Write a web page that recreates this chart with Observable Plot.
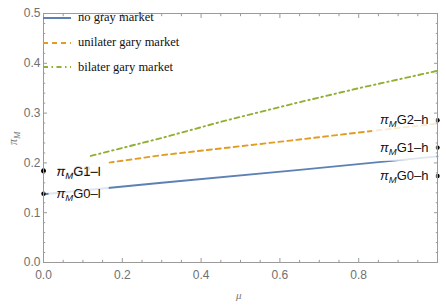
<!DOCTYPE html>
<html><head><meta charset="utf-8">
<script src="https://cdn.jsdelivr.net/npm/d3@7"></script>
<script src="https://cdn.jsdelivr.net/npm/@observablehq/plot@0.6"></script>
<style>
body{margin:0;background:#fff;}
#wrap{position:relative;width:446px;height:308px;overflow:hidden;}
#wrap svg{display:block;}
.leg{position:absolute;left:43px;height:16px;display:flex;align-items:center;font-family:"Liberation Serif","Times New Roman",serif;font-size:12.5px;color:#111;white-space:nowrap;}
.leg svg{margin-right:7px;}
.ax{position:absolute;font-family:"Liberation Serif","Times New Roman",serif;font-style:italic;color:#777;font-size:12px;}
.ax sub{font-size:9px;}
</style></head><body><div id="wrap"></div><script>
// series: no gray market
const noGrayMu = [0, 0.3, 0.65, 1];
const noGrayPi = [0.137, 0.160, 0.186, 0.213];
// series: unilater gary market
const uniMu = [0.12, 0.17, 0.3, 0.5, 0.65, 0.8, 1];
const uniPi = [0.197, 0.201, 0.2155, 0.2335, 0.247, 0.261, 0.279];
// series: bilater gary market
const biMu = [0.12, 0.3, 0.457, 0.65, 0.8, 1];
const biPi = [0.214, 0.25, 0.284, 0.322, 0.35, 0.385];

const seriesNames = ["no gray market", "unilater gary market", "bilater gary market"];
const seriesColors = ["#5E81B5", "#E19C24", "#8FB032"];
const seriesDash = ["none", "5,4", "5,3.5,1.5,3.5"];

// labelled points
const pointNames = ["G0–l", "G2–l", "G1–l", "G0–h", "G1–h", "G2–h"];
const pointMu = [0, 0, 0, 1, 1, 1];
const pointPi = [0.138, 0.185, 0.183, 0.1737, 0.2307, 0.2857];

// ticks
const xTicks = [0, 0.2, 0.4, 0.6, 0.8];
const xMajor = [0, 0.2, 0.4, 0.6, 0.8, 1];
const xMinor = [0.05,0.1,0.15,0.25,0.3,0.35,0.45,0.5,0.55,0.65,0.7,0.75,0.85,0.9,0.95];
const yTicks = [0, 0.1, 0.2, 0.3, 0.4, 0.5];
const yMinor = [0.02,0.04,0.06,0.08,0.12,0.14,0.16,0.18,0.22,0.24,0.26,0.28,0.32,0.34,0.36,0.38,0.42,0.44,0.46,0.48];
const xLabel = "μ";

const seriesData = [
  noGrayMu.map((m, i) => ({mu: m, pi: noGrayPi[i]})),
  uniMu.map((m, i) => ({mu: m, pi: uniPi[i]})),
  biMu.map((m, i) => ({mu: m, pi: biPi[i]}))
];
const pts = pointNames.map((n, i) => ({name: n, mu: pointMu[i], pi: pointPi[i]}));

const frameCol = "#9a9a9a", labCol = "#707070";
const marks = [];
seriesData.forEach((d, k) => {
  const o = {x: "mu", y: "pi", stroke: seriesColors[k], strokeWidth: 1.9};
  if (seriesDash[k] !== "none") o.strokeDasharray = seriesDash[k];
  marks.push(Plot.line(d, o));
});
marks.push(
  Plot.dot(pts, {x: "mu", y: "pi", r: 2.2, fill: "black"}),
  Plot.text(pts.filter(d => d.mu === 0), {x: "mu", y: "pi", text: "name", textAnchor: "start", dx: 13, fill: "#111", fontSize: 13}),
  Plot.text(pts.filter(d => d.mu === 1), {x: "mu", y: "pi", text: "name", textAnchor: "end", dx: -9, fill: "#111", fontSize: 13}),
  Plot.frame({stroke: frameCol}),
  Plot.axisX(xTicks, {anchor: "bottom", tickSize: 0, tickPadding: 8, tickFormat: d3.format(".1f"), fill: labCol, fontSize: 12, label: null}),
  Plot.axisX(xMajor, {anchor: "bottom", tickSize: -4, fill: "none", stroke: frameCol, label: null}),
  Plot.axisX(xMinor, {anchor: "bottom", tickSize: -2.2, fill: "none", stroke: frameCol, label: null}),
  Plot.axisX(xMajor, {anchor: "top", tickSize: -4, fill: "none", stroke: frameCol, label: null}),
  Plot.axisX(xMinor, {anchor: "top", tickSize: -2.2, fill: "none", stroke: frameCol, label: null}),
  Plot.axisY(yTicks, {anchor: "left", tickSize: 0, tickPadding: 3, tickFormat: d3.format(".1f"), fill: labCol, fontSize: 12, label: null}),
  Plot.axisY(yTicks, {anchor: "left", tickSize: -4, fill: "none", stroke: frameCol, label: null}),
  Plot.axisY(yMinor, {anchor: "left", tickSize: -2.2, fill: "none", stroke: frameCol, label: null}),
  Plot.axisY(yTicks, {anchor: "right", tickSize: -4, fill: "none", stroke: frameCol, label: null}),
  Plot.axisY(yMinor, {anchor: "right", tickSize: -2.2, fill: "none", stroke: frameCol, label: null})
);

const chart = Plot.plot({
  width: 446, height: 308,
  marginLeft: 43, marginRight: 9, marginTop: 13, marginBottom: 46,
  x: {domain: [0, 1]},
  y: {domain: [0, 0.5]},
  style: {fontFamily: "'Liberation Sans', Arial, sans-serif", fontSize: "12px", background: "white", overflow: "visible"},
  marks
});
const wrap = document.getElementById("wrap");
wrap.appendChild(chart);

// rich text for point labels (π with subscript M) + translucent white boxes
const NS = "http://www.w3.org/2000/svg";
chart.querySelectorAll('g[aria-label="text"] text').forEach(t => {
  const s = t.textContent;
  t.textContent = "";
  const a = document.createElementNS(NS, "tspan"); a.setAttribute("font-style", "italic"); a.textContent = "π";
  const b = document.createElementNS(NS, "tspan"); b.setAttribute("font-style", "italic"); b.setAttribute("font-size", "9.5"); b.setAttribute("dy", "3"); b.textContent = "M";
  const c = document.createElementNS(NS, "tspan"); c.setAttribute("dy", "-3"); c.textContent = s;
  t.append(a, b, c);
  const bb = t.getBBox();
  const r = document.createElementNS(NS, "rect");
  r.setAttribute("x", bb.x - 8); r.setAttribute("y", bb.y - 4);
  r.setAttribute("width", bb.width + 16); r.setAttribute("height", bb.height + 8);
  r.setAttribute("fill", "white"); r.setAttribute("fill-opacity", "0.8"); r.setAttribute("stroke", "none");
  if (t.getAttribute("transform")) r.setAttribute("transform", t.getAttribute("transform"));
  t.parentNode.insertBefore(r, t);
});

// legend overlay
const legTops = [9.5, 34.5, 59];
seriesNames.forEach((n, k) => {
  const row = document.createElement("div");
  row.className = "leg";
  row.style.top = legTops[k] + "px";
  const dash = seriesDash[k] === "none" ? "" : ` stroke-dasharray="${seriesDash[k]}"`;
  row.innerHTML = `<svg width="28" height="16"><line x1="0" x2="28" y1="8" y2="8" stroke="${seriesColors[k]}" stroke-width="2"${dash}/></svg><span>${n}</span>`;
  wrap.appendChild(row);
});

// axis labels
const yl = document.createElement("div");
yl.className = "ax";
yl.innerHTML = "π<sub>M</sub>";
yl.style.left = "7px"; yl.style.top = "130px";
yl.style.transform = "rotate(-90deg)";
wrap.appendChild(yl);
const xl = document.createElement("div");
xl.className = "ax";
xl.textContent = xLabel;
xl.style.left = "236px"; xl.style.top = "289px"; xl.style.fontSize = "11px";
wrap.appendChild(xl);
</script></body></html>
